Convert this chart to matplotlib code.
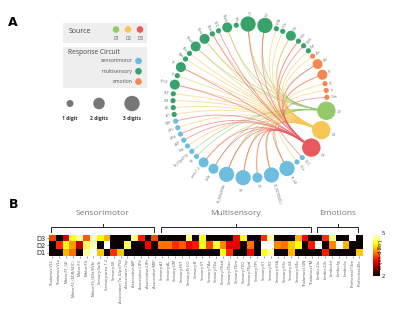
import numpy as np
import matplotlib
matplotlib.use('Agg')
import matplotlib.pyplot as plt
from matplotlib.patches import Circle, PathPatch, Rectangle
from matplotlib.path import Path

plt.rcParams['font.family'] = ['Open Sans', 'DejaVu Sans']

# heatmap columns (grouped by response circuit)
sensorimotor = ['Thalamus:VLC', 'Thalamus:VLo', 'Motor:F1_(4)', 'Motor:F2_(6DR/6DC)', 'Motor:F3',
                'Motor:F4', 'Motor:F5_(6Va/6Vb)', 'Sensory:3a/b', 'Sensory:area 1-2', 'Sensory:SII',
                'Associative:7a_(Opt/PG)', 'Associative:7op', 'Associative:AIP', 'Associative:LIPd',
                'Associative:LIPv', 'Associative:MIP']
multisensory = ['Sensory:A1', 'Sensory:AL', 'Sensory:CM', 'Sensory:FST', 'Sensory:PrCO', 'Sensory:R',
                'Sensory:ST', 'Sensory:TAa', 'Sensory:TEa', 'Sensory:TEad', 'Sensory:TEav', 'Sensory:TEm',
                'Sensory:TEO', 'Sensory:TEpd', 'Sensory:TPt', 'Sensory:V1', 'Sensory:V2', 'Sensory:V3A',
                'Sensory:V3v', 'Sensory:V4', 'Sensory:V4v', 'Thalamus:LGN', 'Thalamus:PM']
emotions = ['Limbic:23c', 'Limbic:24c', 'Limbic:Id', 'Limbic:Ig', 'Limbic:Ia', 'Prefrontal:13m',
            'Prefrontal:46v']

# -log p-values per source
d1 = [2, 2, 3.9, 3.6, 2, 4.7, 5.0, 4.0, 2, 3.3, 4.0, 2, 2, 2, 2, 2,
      2, 2, 2, 2, 2, 2, 2, 2, 2, 4.3, 3.3, 2, 2, 3.0, 2, 4.3, 4.7, 2, 2, 3.9, 2, 2, 2,
      2, 3.2, 2, 2, 2, 2, 4.0]
d2 = [2, 3.3, 4.3, 3.8, 2.8, 4.5, 4.8, 2, 5.0, 2, 2, 4.5, 2, 2, 3.1, 2,
      3.6, 3.6, 3.3, 3.5, 3.0, 3.2, 4.3, 3.4, 4.4, 3.7, 3.0, 3.0, 2, 3.6, 2, 5.0, 5.0, 3.7, 3.6, 4.0, 4.3, 2, 3.2,
      5.0, 2, 3.7, 5.0, 3.9, 2, 2]
d3 = [3.4, 2, 2.9, 4.3, 4.7, 3.5, 4.8, 4.2, 3.9, 2, 2, 2, 4.6, 3.2, 2, 3.4,
      2, 2, 2, 2, 4.6, 2, 4.3, 2, 2, 2, 2, 3.1, 4.3, 2, 2, 3.3, 4.7, 2, 2, 2, 3.9, 3.1, 2,
      2, 3.3, 4.6, 2, 2, 5.0, 2]

# node size class on the circle (number of digits, 0 = not on circle)
sm_digits = [1, 1, 3, 3, 2, 3, 3, 2, 2, 1, 1, 1, 1, 1, 1, 1]
ms_digits = [1, 1, 1, 1, 2, 1, 2, 1, 1, 2, 2, 1, 1, 2, 1, 3, 3, 1, 1, 2, 1, 1, 1]
em_digits = [1, 2, 2, 1, 1, 1, 0]

sources = ['D1', 'D2', 'D3']
src_colors = ['#95C96B', '#F8C655', '#E8595E']
circuit_names = ['sensorimotor', 'multisensory', 'emotion']
circuit_colors = ['#6DBDE0', '#37A26A', '#F7874E']

names = sensorimotor + multisensory + emotions
digits = sm_digits + ms_digits + em_digits
circuit = [0] * len(sensorimotor) + [1] * len(multisensory) + [2] * len(emotions)
vals = [d1, d2, d3]

fig = plt.figure(figsize=(4, 3.19), dpi=100)
ax = fig.add_axes([0, 0, 1, 1])
ax.set_xlim(0, 400)
ax.set_ylim(319, 0)
ax.axis('off')

ax.text(13, 23, 'A', fontsize=9, fontweight='bold', ha='center', va='center', family='DejaVu Sans')
ax.text(14, 204, 'B', fontsize=9, fontweight='bold', ha='center', va='center', family='DejaVu Sans')

# legend boxes
ax.add_patch(Rectangle((63, 22.5), 84, 20, color='#EEEEEE', lw=0))
ax.add_patch(Rectangle((63, 46.5), 84, 41, color='#EEEEEE', lw=0))
ax.text(69, 31.5, 'Source', fontsize=5, color='#444', va='center')
for k, s in enumerate(sources):
    ax.add_patch(Circle((116 + 12 * k, 29.5), 3.3, color=src_colors[k], lw=0))
    ax.text(116 + 12 * k, 38.5, s, fontsize=3.3, color='#555', ha='center', va='center')
ax.text(68, 53, 'Response Circuit', fontsize=4.8, color='#444', va='center')
for k, c in enumerate(circuit_names):
    yy = 61 + 10.3 * k
    ax.add_patch(Circle((138.5, yy), 3.3, color=circuit_colors[k], lw=0))
    ax.text(133, yy, c, fontsize=3.7, color='#555', ha='right', va='center')
size_r = {1: 2.6, 2: 5.0, 3: 7.6}
leg_r = [3.5, 5.8, 7.7]
leg_x = [70, 99, 132]
for k in range(3):
    ax.add_patch(Circle((leg_x[k], 103.5), leg_r[k], color='#777777', lw=0))
    ax.text(leg_x[k], 118.5, '%d digit%s' % (k + 1, '' if k == 0 else 's'), fontsize=3.6,
            fontweight='bold', color='#333', ha='center', va='center')

# circular layout: D1, D2, D3 then the regions, packed by node size, clockwise
cx, cy, R = 250, 101, 77
d_r = 9.2
ring_idx = [i for i in range(len(names)) if digits[i] > 0]
radii = [d_r] * 3 + [size_r[digits[i]] for i in ring_idx]
gap = (2 * np.pi * R - 2 * sum(radii)) / len(radii)
theta = [np.deg2rad(-7.3)]
for k in range(1, len(radii)):
    theta.append(theta[-1] - (radii[k - 1] + radii[k] + gap) / R)
theta = np.array(theta)
px = cx + R * np.cos(theta)
py = cy - R * np.sin(theta)

# chords
for s in range(3):
    for k, i in enumerate(ring_idx):
        if vals[s][i] > 2.5:
            verts = [(px[s], py[s]), (cx, cy), (px[k + 3], py[k + 3])]
            path = Path(verts, [Path.MOVETO, Path.CURVE3, Path.CURVE3])
            ax.add_patch(PathPatch(path, fc='none', ec=src_colors[s], lw=0.6, alpha=0.6, zorder=2))

# nodes and labels
labels = sources + [names[i].split(':')[1] for i in ring_idx]
colors = src_colors + [circuit_colors[circuit[i]] for i in ring_idx]
for k in range(len(radii)):
    ax.add_patch(Circle((px[k], py[k]), radii[k], color=colors[k], lw=0, zorder=3))
    deg = np.rad2deg(np.arctan2(np.sin(theta[k]), np.cos(theta[k])))
    lr = R + radii[k] + 1.5
    lx = cx + lr * np.cos(theta[k])
    ly = cy - lr * np.sin(theta[k])
    if np.cos(theta[k]) >= 0:
        ax.text(lx, ly, labels[k], fontsize=2.4, color='#666', rotation=deg, rotation_mode='anchor',
                ha='left', va='center')
    else:
        ax.text(lx, ly, labels[k], fontsize=2.4, color='#666', rotation=deg - 180,
                rotation_mode='anchor', ha='right', va='center')

# heatmap
hax = fig.add_axes([49 / 400, 1 - 256.3 / 319, 313.8 / 400, 21.8 / 319])
mat = np.array([d3, d2, d1])
im = hax.imshow(mat, cmap='hot', vmin=2, vmax=5, aspect='auto', interpolation='nearest')
hax.set_yticks(range(3))
hax.set_yticklabels(['D3', 'D2', 'D1'], fontsize=4.8, color='#222', family='DejaVu Sans')
hax.set_xticks(range(len(names)))
hax.set_xticklabels(names, rotation=90, fontsize=2.9, color='#555')
hax.tick_params(length=1.2, width=0.4, pad=1, color='#555')
for sp in hax.spines.values():
    sp.set_visible(False)

group_titles = ['Sensorimotor', 'Multisensory', 'Emotions']
group_sizes = [len(sensorimotor), len(multisensory), len(emotions)]
start = 0
for t, n in zip(group_titles, group_sizes):
    x0, x1 = start - 0.15, start + n - 1 - 0.15
    xm = (x0 + x1) / 2
    hax.plot([x0, x0, x1, x1], [-0.84, -1.57, -1.57, -0.84], color='#222', lw=0.7,
             clip_on=False, solid_joinstyle='miter')
    hax.plot([xm, xm], [-1.57, -2.0], color='#222', lw=0.7, clip_on=False)
    hax.text(xm, -3.45, t, fontsize=6, color='#777', ha='center', va='center')
    start += n
hax.set_xlim(-0.5, len(names) - 0.5)
hax.set_ylim(2.5, -0.5)

cax = fig.add_axes([373 / 400, 1 - 276 / 319, 7 / 400, 43 / 319])
cb = fig.colorbar(im, cax=cax, ticks=[2, 5])
cb.outline.set_visible(False)
cb.ax.tick_params(labelsize=4, length=0, pad=1.5)
cb.set_label('Log p-value', rotation=270, fontsize=4, labelpad=-3)

fig.savefig('out.png', dpi=100)
